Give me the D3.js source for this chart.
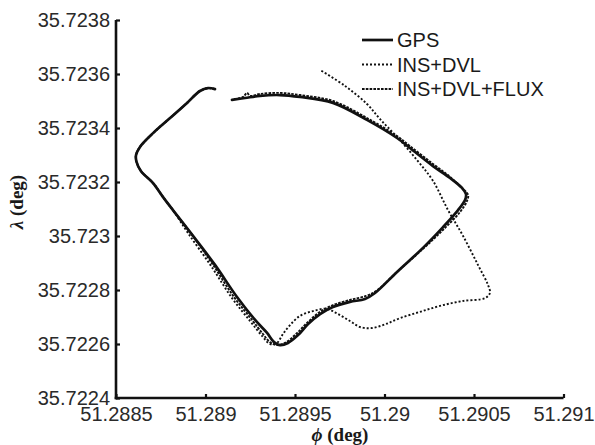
<!DOCTYPE html>
<html><head><meta charset="utf-8">
<script src="https://cdn.jsdelivr.net/npm/d3@7"></script>
<style>body{margin:0;background:#fff}svg{display:block}</style>
</head><body>
<svg id="c" width="595" height="445"></svg>
<script>
// ---- data (longitude phi, latitude lambda in degrees) ----
const seriesNames = ["GPS", "INS+DVL", "INS+DVL+FLUX"];
const xTicks = [51.2885, 51.289, 51.2895, 51.29, 51.2905, 51.291];
const yTicks = [35.7224, 35.7226, 35.7228, 35.723, 35.7232, 35.7234, 35.7236, 35.7238];

const commonStart = [
  [51.289053,35.723544],[51.289014,35.723548],[51.288969,35.723537],[51.288897,35.723493],
  [51.288802,35.723437],[51.288707,35.723381],[51.288634,35.72333],[51.288612,35.723300],
  [51.288614,35.723276],[51.288640,35.723240],[51.288707,35.723196],[51.288763,35.723144],
  [51.288818,35.723096]
];
const gpsTail = [
  [51.288913,35.723015],[51.289053,35.722893],[51.289176,35.722774],[51.289277,35.722689],
  [51.289344,35.722641],[51.289383,35.722607],[51.289416,35.722596],[51.289461,35.722604],
  [51.289517,35.722633],[51.289573,35.722674],[51.28964,35.722711],[51.289712,35.722737],
  [51.289807,35.722756],[51.289891,35.722767],[51.289947,35.722789],[51.29007,35.722867],
  [51.290215,35.722956],[51.290327,35.723033],[51.290411,35.723096],[51.29045,35.723133],
  [51.290455,35.723156],[51.290433,35.723178],[51.290366,35.723215],[51.290271,35.723259],
  [51.290142,35.723326],[51.29007,35.723363],[51.289902,35.72343],[51.289712,35.723493],
  [51.289528,35.723515],[51.289416,35.723522],[51.289304,35.723519],[51.289221,35.723511],
  [51.289148,35.723504]
];
const insDvlTail = [
  [51.288902,35.723011],[51.289031,35.722889],[51.289148,35.72277],[51.289249,35.722685],
  [51.289316,35.72263],[51.28936,35.7226],[51.289399,35.722604],[51.289433,35.722637],
  [51.289472,35.72267],[51.289528,35.722704],[51.289601,35.722722],[51.289679,35.72273],
  [51.28974,35.722711],[51.289807,35.722685],[51.289863,35.722663],[51.28993,35.722659],
  [51.290008,35.722674],[51.290087,35.722696],[51.290198,35.722719],[51.29031,35.722741],
  [51.290433,35.722759],[51.290562,35.72277],[51.290589,35.722789],[51.290578,35.722819],
  [51.290522,35.722893],[51.290439,35.723],[51.290355,35.723096],[51.290271,35.723204],
  [51.290182,35.723281],[51.29007,35.723367],[51.289975,35.723433],[51.289902,35.723489],
  [51.289779,35.723556],[51.28964,35.723615]
];
const fluxTail = [
  [51.288913,35.723015],[51.289042,35.722893],[51.289159,35.722774],[51.28926,35.722689],
  [51.289321,35.722637],[51.28936,35.722607],[51.289399,35.722596],[51.289444,35.722604],
  [51.289506,35.722637],[51.289567,35.722678],[51.28964,35.722719],[51.289712,35.722744],
  [51.289807,35.722763],[51.289897,35.722778],[51.289953,35.722796],[51.290075,35.72287],
  [51.290221,35.722956],[51.290338,35.72303],[51.290422,35.723089],[51.290461,35.72313],
  [51.290467,35.723152],[51.290439,35.723174],[51.290366,35.723219],[51.290271,35.723267],
  [51.290142,35.723333],[51.29007,35.72337],[51.289902,35.723437],[51.289712,35.7235],
  [51.289528,35.723522],[51.289416,35.72353],[51.289304,35.723526],[51.289249,35.723519],
  [51.289232,35.72353],[51.28921,35.723515],[51.289154,35.723507]
];

const gps = commonStart.concat(gpsTail);
const insDvl = commonStart.concat(insDvlTail);
const insDvlFlux = commonStart.concat(fluxTail);

// ---- drawing ----
const svg = d3.select("#c");
const x = d3.scaleLinear().domain([51.2885, 51.291]).range([116, 563.5]);
const y = d3.scaleLinear().domain([35.7224, 35.7238]).range([398, 20]);

const styles = [
  {w: 2.7, dash: null},
  {w: 1.9, dash: "2,2"},
  {w: 1.9, dash: "2.6,1.2"}
];
const seriesData = [gps, insDvl, insDvlFlux];

const line = d3.line().x(d => x(d[0])).y(d => y(d[1])).curve(d3.curveCatmullRom.alpha(0.5));

// draw dashed first, solid on top
[1, 2, 0].forEach(i => {
  svg.append("path").datum(seriesData[i])
    .attr("d", line).attr("fill", "none").attr("stroke", "#111")
    .attr("stroke-width", styles[i].w).attr("stroke-dasharray", styles[i].dash)
    .attr("stroke-linejoin", "round").attr("stroke-linecap", i === 0 ? "round" : "butt");
});

const fmt = d => String(+d.toFixed(6));
const xAxis = svg.append("g").attr("transform", "translate(0,398)")
  .call(d3.axisBottom(x).tickValues(xTicks).tickFormat(fmt).tickSizeInner(-4).tickSizeOuter(0).tickPadding(9));
const yAxis = svg.append("g").attr("transform", "translate(116,0)")
  .call(d3.axisLeft(y).tickValues(yTicks).tickFormat(fmt).tickSizeInner(-4).tickSizeOuter(0).tickPadding(6));
[xAxis, yAxis].forEach(a => {
  a.select(".domain").attr("stroke", "#111").attr("stroke-width", 2.6);
  a.selectAll(".tick line").attr("stroke", "#111").attr("stroke-width", 2.2);
  a.selectAll(".tick text").attr("fill", "#2a2a2a")
    .style("font-family", "'Liberation Sans', Arial, sans-serif").style("font-size", "20px");
});
// extend axis lines to meet at the corner
xAxis.select(".domain").attr("d", "M" + (116 - 1.3) + ",0H" + 563.5);
yAxis.select(".domain").attr("d", "M0,20V" + (398 + 1.3));

// axis titles
const serif = "'Liberation Serif', 'Times New Roman', serif";
const xt = svg.append("text").attr("x", 340).attr("y", 441).attr("text-anchor", "middle")
  .style("font-family", serif).style("font-size", "19px").style("font-weight", "bold").attr("fill", "#1a1a1a");
xt.append("tspan").style("font-style", "italic").text("ϕ");
xt.append("tspan").text(" (deg)");
const yt = svg.append("text").attr("transform", "translate(23,202) rotate(-90)").attr("text-anchor", "middle")
  .style("font-family", serif).style("font-size", "19px").style("font-weight", "bold").attr("fill", "#1a1a1a");
yt.append("tspan").style("font-style", "italic").text("λ");
yt.append("tspan").text(" (deg)");

// legend
const lg = svg.append("g");
seriesNames.forEach((name, i) => {
  const yy = 40 + i * 24.5;
  lg.append("line").attr("x1", 362).attr("x2", 393).attr("y1", yy).attr("y2", yy)
    .attr("stroke", "#111").attr("stroke-width", styles[i].w).attr("stroke-dasharray", styles[i].dash);
  lg.append("text").attr("x", 397).attr("y", yy).attr("dy", "0.36em")
    .style("font-family", "'Liberation Sans', Arial, sans-serif").style("font-size", "20px")
    .attr("fill", "#1a1a1a").text(name);
});
</script>
</body></html>
